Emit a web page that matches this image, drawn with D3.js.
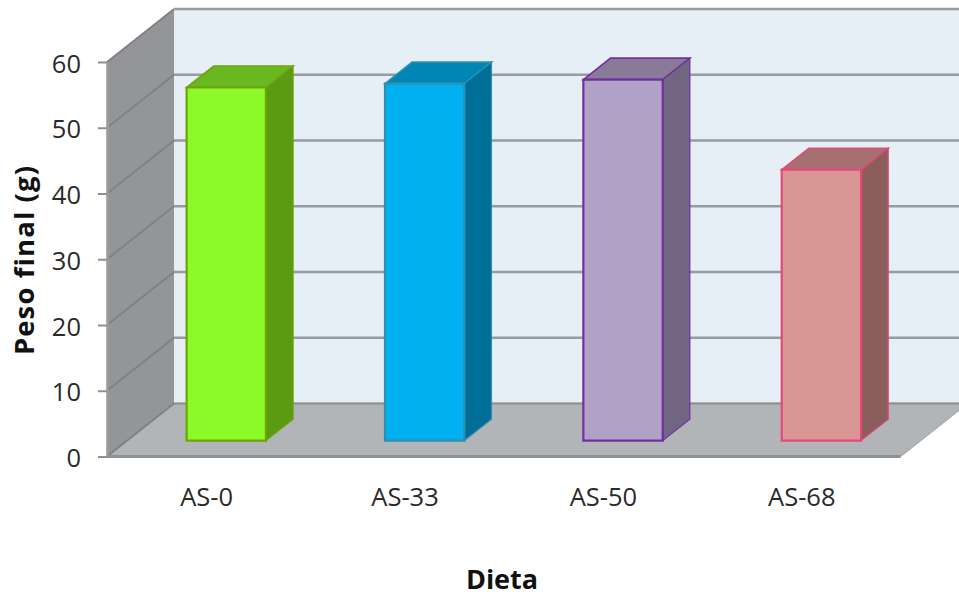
<!DOCTYPE html>
<html>
<head>
<meta charset="utf-8">
<script src="https://cdn.jsdelivr.net/npm/d3@7"></script>
<style>
html,body{margin:0;padding:0;background:#fff;overflow:hidden}
svg{display:block}
</style>
</head>
<body>
<script>
// Final weight per diet
const categories = ["AS-0", "AS-33", "AS-50", "AS-68"];
const values = [53.7, 54.3, 54.9, 41.2];
const yTicks = [0, 10, 20, 30, 40, 50, 60];
const xTitle = "Dieta";
const yTitle = "Peso final (g)";

const frontColors = ["#8CF928", "#00B0F0", "#B2A1C7", "#D99694"];
const topColors = ["#6AB81F", "#0086B6", "#897A99", "#A6706F"];
const sideColors = ["#5B9B14", "#006F97", "#716682", "#8B5E5C"];
const edgeColors = ["#6FA30E", "#2F8FB0", "#7030A0", "#E6487A"];

const W = 959, H = 596;
const svg = d3.select("body").append("svg").attr("width", W).attr("height", H);

// Oblique projection: depth 0 is the front plane, depth 1 the back wall
const y = d3.scaleLinear().domain([0, 60]).range([456.5, 62]);
const x = d3.scaleBand().domain(categories).range([107, 900.5]).paddingInner(0.6).paddingOuter(0.3);
const depthX = d3.scaleLinear().domain([0, 1]).range([0, 67]);
const depthY = d3.scaleLinear().domain([0, 1]).range([0, -53]);
const barFront = 0.30, barBack = 0.705;
const poly = pts => pts.map(p => p.join(",")).join(" ");
const project = (px, v, d) => [px + depthX(d), y(v) + depthY(d)];

const x0 = x.range()[0], x1 = x.range()[1];
const farRight = W + 20;

// Back wall
svg.append("polygon")
  .attr("points", poly([project(x0, 60, 1), [farRight, y(60) + depthY(1)], [farRight, y(0) + depthY(1)], project(x0, 0, 1)]))
  .attr("fill", "#E6EEF6");

// Left wall
svg.append("polygon")
  .attr("points", poly([project(x0, 0, 0), project(x0, 60, 0), project(x0, 60, 1), project(x0, 0, 1)]))
  .attr("fill", "#939598");

// Floor
svg.append("polygon")
  .attr("points", poly([project(x0, 0, 0), project(x1, 0, 0), project(x1, 0, 1.0), [farRight, y(0) + depthY(1)], project(x0, 0, 1)]))
  .attr("fill", "#B1B5B8");

// Gridlines wrap from the left wall onto the back wall
const grid = svg.append("g").attr("fill", "none");
yTicks.forEach(t => {
  grid.append("polyline")
    .attr("points", poly([project(x0, t, 0), project(x0, t, 1)]))
    .attr("stroke", "#7E8083").attr("stroke-width", 1.6);
  grid.append("line")
    .attr("x1", x0 + depthX(1)).attr("y1", y(t) + depthY(1))
    .attr("x2", farRight).attr("y2", y(t) + depthY(1))
    .attr("stroke", "#999B9C").attr("stroke-width", 2.6);
});

// Floor outer edges
svg.append("line")
  .attr("x1", x0).attr("y1", y(0)).attr("x2", x1).attr("y2", y(0))
  .attr("stroke", "#8E9092").attr("stroke-width", 2.8);
svg.append("line")
  .attr("x1", x1).attr("y1", y(0)).attr("x2", x1 + depthX(1)).attr("y2", y(0) + depthY(1))
  .attr("stroke", "#A5A8AB").attr("stroke-width", 1.2);
svg.append("line")
  .attr("x1", x0 + depthX(1)).attr("y1", y(0) + depthY(1)).attr("x2", farRight).attr("y2", y(0) + depthY(1))
  .attr("stroke", "#8E9092").attr("stroke-width", 1.2);

// Value axis
const yAxis = svg.append("g")
  .attr("transform", `translate(${x0},0)`)
  .call(d3.axisLeft(y).tickValues(yTicks).tickSize(9).tickPadding(17).tickSizeOuter(0));
yAxis.select(".domain").attr("stroke", "#9A9C9E").attr("stroke-width", 2.6);
yAxis.selectAll(".tick line").attr("stroke", "#8E9092").attr("stroke-width", 2);
yAxis.selectAll("text")
  .attr("dy", "0.4em")
  .attr("font-family", "'Open Sans', sans-serif").attr("font-size", 25.5).attr("fill", "#2a2a2a");

// Bars: top, side and front faces
const bars = svg.append("g").selectAll("g").data(categories).join("g");
const bw = x.bandwidth();
bars.append("polygon")
  .attr("points", (c, i) => poly([
    project(x(c), values[i], barFront), project(x(c) + bw, values[i], barFront),
    project(x(c) + bw, values[i], barBack), project(x(c), values[i], barBack)]))
  .attr("fill", (c, i) => topColors[i]).attr("stroke", (c, i) => edgeColors[i]).attr("stroke-width", 1.6);
bars.append("polygon")
  .attr("points", (c, i) => poly([
    project(x(c) + bw, 0, barFront), project(x(c) + bw, values[i], barFront),
    project(x(c) + bw, values[i], barBack), project(x(c) + bw, 0, barBack)]))
  .attr("fill", (c, i) => sideColors[i]).attr("stroke", (c, i) => edgeColors[i]).attr("stroke-width", 1.2);
bars.append("polygon")
  .attr("points", (c, i) => poly([
    project(x(c), 0, barFront), project(x(c), values[i], barFront),
    project(x(c) + bw, values[i], barFront), project(x(c) + bw, 0, barFront)]))
  .attr("fill", (c, i) => frontColors[i]).attr("stroke", (c, i) => edgeColors[i]).attr("stroke-width", 2.2);

// Category labels
svg.append("g").selectAll("text").data(categories).join("text")
  .attr("x", c => x(c) + bw / 2 + 0.5)
  .attr("y", 506)
  .attr("text-anchor", "middle")
  .attr("font-family", "'Open Sans', sans-serif").attr("font-size", 25.5).attr("fill", "#2a2a2a")
  .text(c => c);

// Axis titles
svg.append("text").attr("x", 502).attr("y", 589).attr("text-anchor", "middle")
  .attr("font-family", "'Open Sans', sans-serif").attr("font-weight", "bold").attr("font-size", 27).attr("fill", "#111")
  .text(xTitle);
svg.append("text").attr("transform", "translate(34,260) rotate(-90)").attr("text-anchor", "middle")
  .attr("font-family", "'Open Sans', sans-serif").attr("font-weight", "bold").attr("font-size", 27.5)
  .attr("letter-spacing", 1.1).attr("fill", "#111")
  .text(yTitle);
</script>
</body>
</html>
